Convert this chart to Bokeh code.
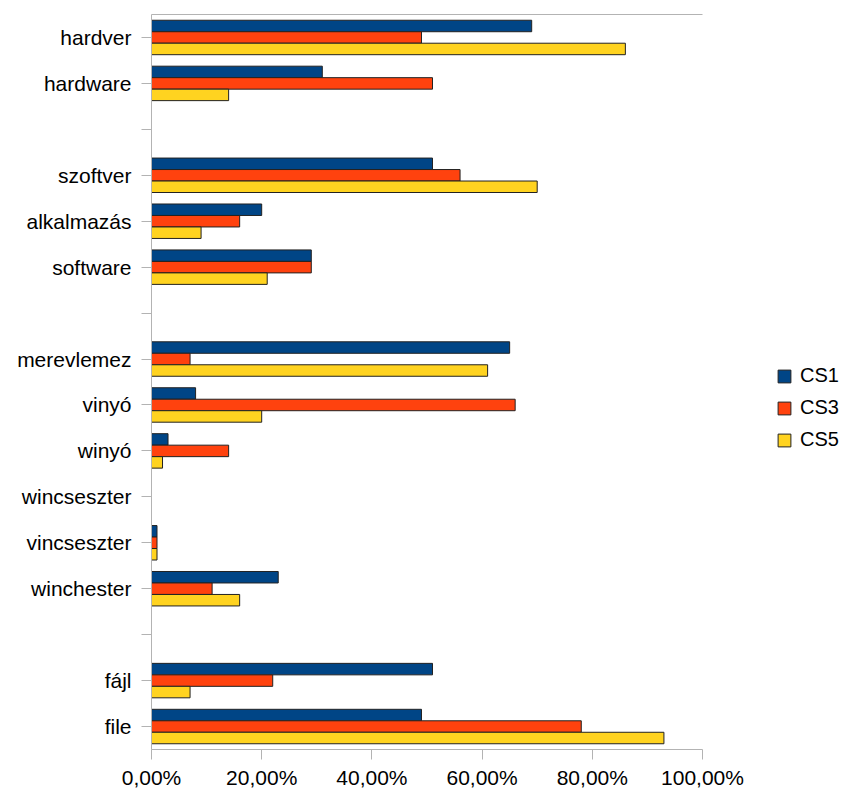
from bokeh.plotting import figure
from bokeh.models import (ColumnDataSource, FactorRange, Range1d, FixedTicker, CustomJSTickFormatter,
                          Legend, LegendItem, LinearAxis)
from bokeh.transform import dodge
from bokeh.embed import file_html
from bokeh.resources import INLINE

# Data (top to bottom)
categories = ["hardver", "hardware", " ", "szoftver", "alkalmazás", "software", "  ",
              "merevlemez", "vinyó", "winyó", "wincseszter", "vincseszter", "winchester", "   ",
              "fájl", "file"]
cs1 = [69, 31, 0, 51, 20, 29, 0, 65, 8, 3, 0, 1, 23, 0, 51, 49]
cs3 = [49, 51, 0, 56, 16, 29, 0, 7, 66, 14, 0, 1, 11, 0, 22, 78]
cs5 = [86, 14, 0, 70, 9, 21, 0, 61, 20, 2, 0, 1, 16, 0, 7, 93]
x_ticks = [0, 20, 40, 60, 80, 100]
series_names = ["CS1", "CS3", "CS5"]
colors = ["#004586", "#ff420e", "#ffd320"]

blank = {" ", "  ", "   "}
keep = [i for i, c in enumerate(categories) if c not in blank]
src = ColumnDataSource(dict(cat=[categories[i] for i in keep],
                            CS1=[cs1[i] for i in keep],
                            CS3=[cs3[i] for i in keep],
                            CS5=[cs5[i] for i in keep]))

FONT = "Liberation Sans"
GRID = "#b3b3b3"

W, H = 841, 791
LEFT, TOP, BOTTOM = 151, 14, 41
frame_w = W - LEFT
x_end = 100 * frame_w / 551.0   # 100% sits 551 px right of the frame's left edge

p = figure(width=W, height=H, output_backend="svg", toolbar_location=None,
           y_range=FactorRange(factors=list(reversed(categories)), range_padding=0),
           x_range=Range1d(0, x_end), x_axis_type=None,
           min_border_left=LEFT, min_border_right=0, min_border_top=TOP, min_border_bottom=BOTTOM)
p.outline_line_color = None

offsets = [0.25, 0.0, -0.25]
renderers = []
for name, col, off in zip(series_names, colors, offsets):
    r = p.hbar(y=dodge("cat", off, range=p.y_range), right=name, left=0, height=0.25,
               source=src, fill_color=col, line_color="#222222", line_width=1)
    renderers.append(r)

xaxis = LinearAxis(ticker=FixedTicker(ticks=x_ticks), bounds=(0, 100),
                   formatter=CustomJSTickFormatter(code="return tick.toFixed(2).replace('.', ',') + '%';"))
p.add_layout(xaxis, "below")
top_axis = LinearAxis(ticker=FixedTicker(ticks=[]), bounds=(0, 100), major_tick_out=0, major_tick_in=0,
                      major_label_standoff=0, axis_line_color=GRID, minor_tick_line_color=None)
p.add_layout(top_axis, "above")

for ax in (xaxis, p.yaxis[0]):
    ax.axis_line_color = GRID
    ax.major_tick_line_color = GRID
    ax.major_tick_in = 0
    ax.major_tick_out = 10
    ax.minor_tick_line_color = None
    ax.major_label_text_font = FONT
    ax.major_label_text_font_size = "21px"
    ax.major_label_text_color = "#000000"
xaxis.major_label_standoff = 6
p.yaxis.major_label_standoff = 10

p.ygrid.grid_line_color = None
p.xgrid.grid_line_color = GRID
p.xgrid.ticker = FixedTicker(ticks=x_ticks)

legend = Legend(items=[LegendItem(label=n, renderers=[r]) for n, r in zip(series_names, renderers)],
                location=(625, 750 - 368 - 87 + 3), padding=0, margin=0, spacing=9,
                glyph_width=16, glyph_height=16, label_height=16, label_standoff=8,
                label_text_font=FONT, label_text_font_size="20px", label_text_color="#000000",
                border_line_alpha=0, background_fill_alpha=0)
p.add_layout(legend)

open("out.html", "w").write(file_html(p, INLINE))
